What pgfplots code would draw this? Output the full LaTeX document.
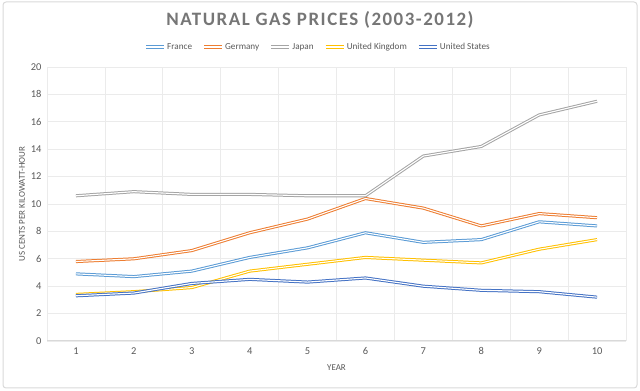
\documentclass[border=0pt]{standalone}
\usepackage{pgfplots}
\pgfplotsset{compat=1.18}
\usepackage{fontspec}
\setmainfont{Carlito}
\newfontfamily\titlefont[LetterSpace=8]{Carlito}
\definecolor{cFR}{HTML}{5B9BD5}
\definecolor{cDE}{HTML}{ED7D31}
\definecolor{cJP}{HTML}{A5A5A5}
\definecolor{cUK}{HTML}{FFC000}
\definecolor{cUS}{HTML}{4472C4}
\definecolor{txt}{HTML}{595959}
\definecolor{ttl}{HTML}{767676}
\definecolor{gridc}{HTML}{EBEBEB}
\definecolor{axc}{HTML}{D9D9D9}
\tikzset{dbl/.style={line width=1bp, double=white, double distance=1.1bp, line join=round}}
\begin{document}
\begin{tikzpicture}
\path[use as bounding box] (0,0) rectangle (640bp,391bp);
\draw[axc, line width=1bp, rounded corners=3bp] (3bp,3bp) rectangle (637bp,389bp);
\begin{axis}[
  at={(47bp,50bp)}, anchor=south west,
  scale only axis, width=579bp, height=274bp,
  xmin=0.5, xmax=10.5, ymin=0, ymax=20,
  xtick={1,...,10}, ytick={0,2,...,20},
  minor xtick={0.5,1.5,...,10.5},
  xmajorgrids=false, ymajorgrids=true, xminorgrids=true,
  grid style={gridc, line width=0.8bp},
  minor grid style={gridc, line width=0.8bp},
  major tick length=0pt, minor tick length=0pt,
  axis line style={draw=none},
  tick label style={font=\fontsize{10.5}{12}\selectfont, text=txt},
  /pgf/number format/assume math mode=true,
  xticklabel style={yshift=-3bp},
  yticklabel style={xshift=-2bp},
  legend columns=5,
  legend style={at={(0.468,1.073)}, anchor=center, draw=none, fill=none,
    font=\fontsize{9.2}{11}\selectfont, text=txt,
    nodes={inner sep=1.5bp},
    /tikz/every odd column/.append style={column sep=0bp},
    /tikz/every even column/.append style={column sep=9bp}},
  legend image code/.code={\draw[#1] (0bp,0bp) -- (18bp,0bp);},
  clip=false,
]
\addplot[dbl, draw=cFR] coordinates {(1,4.9) (2,4.7) (3,5.1) (4,6.1) (5,6.8) (6,7.9) (7,7.2) (8,7.4) (9,8.7) (10,8.4)};
\addlegendentry{France}
\addplot[dbl, draw=cDE] coordinates {(1,5.8) (2,6.0) (3,6.6) (4,7.9) (5,8.9) (6,10.4) (7,9.7) (8,8.4) (9,9.3) (10,9.0)};
\addlegendentry{Germany}
\addplot[dbl, draw=cJP] coordinates {(1,10.6) (2,10.9) (3,10.7) (4,10.7) (5,10.6) (6,10.6) (7,13.5) (8,14.2) (9,16.5) (10,17.5)};
\addlegendentry{Japan}
\addplot[dbl, draw=cUK] coordinates {(1,3.4) (2,3.6) (3,3.9) (4,5.1) (5,5.6) (6,6.1) (7,5.9) (8,5.7) (9,6.7) (10,7.4)};
\addlegendentry{United Kingdom}
\addplot[dbl, draw=cUS] coordinates {(1,3.3) (2,3.5) (3,4.2) (4,4.5) (5,4.3) (6,4.6) (7,4.0) (8,3.7) (9,3.6) (10,3.2)};
\addlegendentry{United States}
\draw[axc, line width=1bp] (axis cs:0.5,0) -- (axis cs:10.5,0);
\end{axis}
\node[font=\titlefont\bfseries\fontsize{19}{22}\selectfont, text=ttl] at (320bp,371bp) {NATURAL GAS PRICES (2003-2012)};
\node[font=\fontsize{9}{11}\selectfont, text=txt] at (336.5bp,23bp) {YEAR};
\node[font=\fontsize{9}{11}\selectfont, text=txt, rotate=90] at (22bp,187bp) {US CENTS PER KILOWATT-HOUR};
\end{tikzpicture}
\end{document}
